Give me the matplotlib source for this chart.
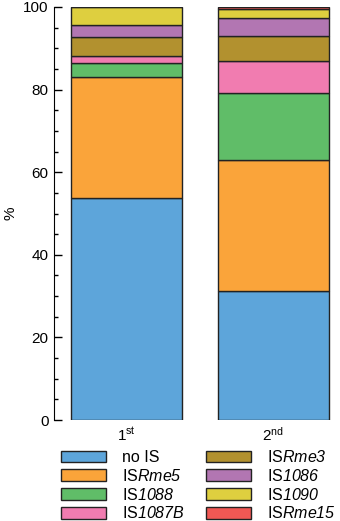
import matplotlib
matplotlib.use("Agg")
import matplotlib.pyplot as plt
import numpy as np

plt.rcParams['font.family'] = ['Liberation Sans', 'DejaVu Sans']
plt.rcParams['mathtext.fontset'] = 'custom'
plt.rcParams['mathtext.rm'] = 'Liberation Sans'
plt.rcParams['mathtext.it'] = 'Liberation Sans:italic'
# sf slot used for italic names incl. digits (mathtext keeps digits upright in 'it')
plt.rcParams['mathtext.sf'] = 'Liberation Sans:italic'

# data (% of isolates per IS element)
rounds = ['1$^{\\mathrm{st}}$', '2$^{\\mathrm{nd}}$']
labels = ['no IS', 'IS$\\mathsf{Rme5}$', 'IS$\\mathsf{1088}$', 'IS$\\mathsf{1087B}$',
          'IS$\\mathsf{Rme3}$', 'IS$\\mathsf{1086}$', 'IS$\\mathsf{1090}$', 'IS$\\mathsf{Rme15}$']
first = [53.7, 29.3, 3.4, 1.7, 4.7, 2.8, 4.4, 0.0]
second = [31.2, 31.8, 16.1, 7.9, 6.0, 4.4, 2.2, 0.4]
colors = ['#5DA5DA', '#FAA43A', '#60BD68', '#F17CB0',
          '#B2912F', '#B276B2', '#DECF3F', '#F15854']

fig = plt.figure(figsize=(3.4, 5.21), dpi=100)
ax = fig.add_axes([54/340, 101/521, 1 - 54/340 - 0.01, 413/521])

x = np.arange(len(rounds))
vals = np.array([first, second])
bottom = np.zeros(len(rounds))
handles = []
for i, lab in enumerate(labels):
    h = ax.bar(x, vals[:, i], bottom=bottom, width=0.753, color=colors[i],
               edgecolor='#222222', linewidth=1.0, label=lab)
    handles.append(h)
    bottom += vals[:, i]

ax.set_xlim(-0.493, 1.43)
ax.set_ylim(0, 100)
ax.set_xticks(x)
ax.set_xticklabels(rounds, fontsize=11)
ax.set_yticks([0, 20, 40, 60, 80, 100])
ax.set_yticks(np.arange(0, 101, 5), minor=True)
ax.tick_params(axis='y', which='major', direction='in', length=6, width=1,
               labelsize=11, pad=4)
ax.tick_params(axis='y', which='minor', direction='in', length=3, width=1)
ax.tick_params(axis='x', length=0, pad=4)
for s in ['top', 'right', 'bottom']:
    ax.spines[s].set_visible(False)
ax.set_ylabel('%', fontsize=11)
ax.yaxis.set_label_coords(-0.128, 0.5)

fig.legend(handles, labels, ncol=2, loc='lower left', bbox_to_anchor=(0.155, -0.016),
           frameon=False, fontsize=11.5, handlelength=2.85, handleheight=0.75,
           handletextpad=1.0, labelspacing=0.17, columnspacing=1.3,
           borderaxespad=0.1)

fig.savefig('out.png', dpi=100)
